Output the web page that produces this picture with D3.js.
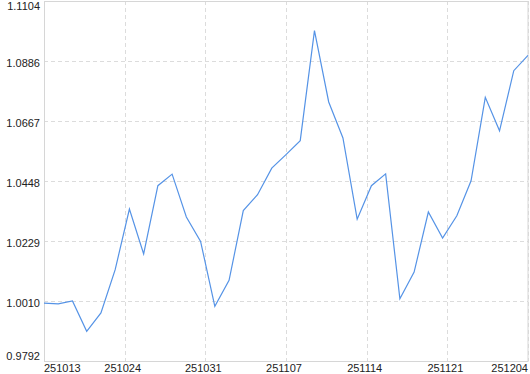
<!DOCTYPE html>
<html>
<head>
<meta charset="utf-8">
<script src="https://cdn.jsdelivr.net/npm/d3@7"></script>
<style>
  html, body { margin: 0; padding: 0; background: #fff; }
  svg { display: block; font-family: "Liberation Sans", Arial, sans-serif; }
</style>
</head>
<body>
<div id="chart"></div>
<script>
// values, one per trading point
const values = [
  1.0003, 1.0000, 1.0011, 0.9900, 0.9967, 1.0125, 1.0346, 1.0182, 1.0431, 1.0473,
  1.0317, 1.0228, 0.9991, 1.0086, 1.0340, 1.0398, 1.0495, 1.0544, 1.0595, 1.0996,
  1.0736, 1.0605, 1.0309, 1.0431, 1.0474, 1.0019, 1.0116, 1.0335, 1.0240, 1.0321,
  1.0449, 1.0753, 1.0631, 1.0850, 1.0906
];
const xTickLabels = ['251013', '251024', '251031', '251107', '251114', '251121', '251204'];
const yTickLabels = ['0.9792', '1.0010', '1.0229', '1.0448', '1.0667', '1.0886', '1.1104'];
const yMin = 0.9792, yMax = 1.1104;

const W = 530, H = 374;
const margin = { top: 1, right: 2, bottom: 13, left: 44 };
const width = W - margin.left - margin.right;
const height = H - margin.top - margin.bottom;

const svg = d3.select('#chart').append('svg')
  .attr('width', W)
  .attr('height', H);
const g = svg.append('g').attr('transform', `translate(${margin.left},${margin.top})`);

const x = d3.scaleLinear().domain([0, values.length - 1]).range([0, width]);
const y = d3.scaleLinear().domain([yMin, yMax]).range([height, 0]);

const xTicks = xTickLabels.map((_, i) => i * (values.length - 1) / (xTickLabels.length - 1));
const yTicks = yTickLabels.map((_, i) => yMin + i * (yMax - yMin) / (yTickLabels.length - 1));

// dashed grid
g.append('g').selectAll('line').data(yTicks).enter().append('line')
  .attr('x1', 0).attr('x2', width)
  .attr('y1', d => Math.round(y(d)) + 0.5).attr('y2', d => Math.round(y(d)) + 0.5)
  .attr('stroke', '#dcdcdc').attr('stroke-dasharray', '4,3');
g.append('g').selectAll('line').data(xTicks).enter().append('line')
  .attr('x1', d => Math.round(x(d)) + 0.5).attr('x2', d => Math.round(x(d)) + 0.5)
  .attr('y1', 0).attr('y2', height)
  .attr('stroke', '#dcdcdc').attr('stroke-dasharray', '4,3');

// frame
g.append('rect')
  .attr('x', 0.5).attr('y', 0.5)
  .attr('width', width - 0.5).attr('height', height)
  .attr('fill', 'none').attr('stroke', '#d6d6d6');

// line
const line = d3.line().x((d, i) => x(i)).y(d => y(d));
g.append('path')
  .datum(values)
  .attr('d', line)
  .attr('fill', 'none')
  .attr('stroke', '#5593e6')
  .attr('stroke-width', 1.2);

// y labels
g.append('g').selectAll('text').data(yTicks).enter().append('text')
  .attr('x', -4)
  .attr('y', d => Math.min(Math.max(y(d) + 6, 8.5), height - 1))
  .attr('text-anchor', 'end')
  .attr('font-size', '11px')
  .attr('fill', '#222')
  .text((d, i) => yTickLabels[i]);

// x labels
g.append('g').selectAll('text').data(xTicks).enter().append('text')
  .attr('x', (d, i) => i === 0 ? 0 : i === xTicks.length - 1 ? width : x(d) - 2)
  .attr('y', height + 11)
  .attr('text-anchor', (d, i) => i === 0 ? 'start' : i === xTicks.length - 1 ? 'end' : 'middle')
  .attr('font-size', '11px')
  .attr('fill', '#222')
  .text((d, i) => xTickLabels[i]);
</script>
</body>
</html>
